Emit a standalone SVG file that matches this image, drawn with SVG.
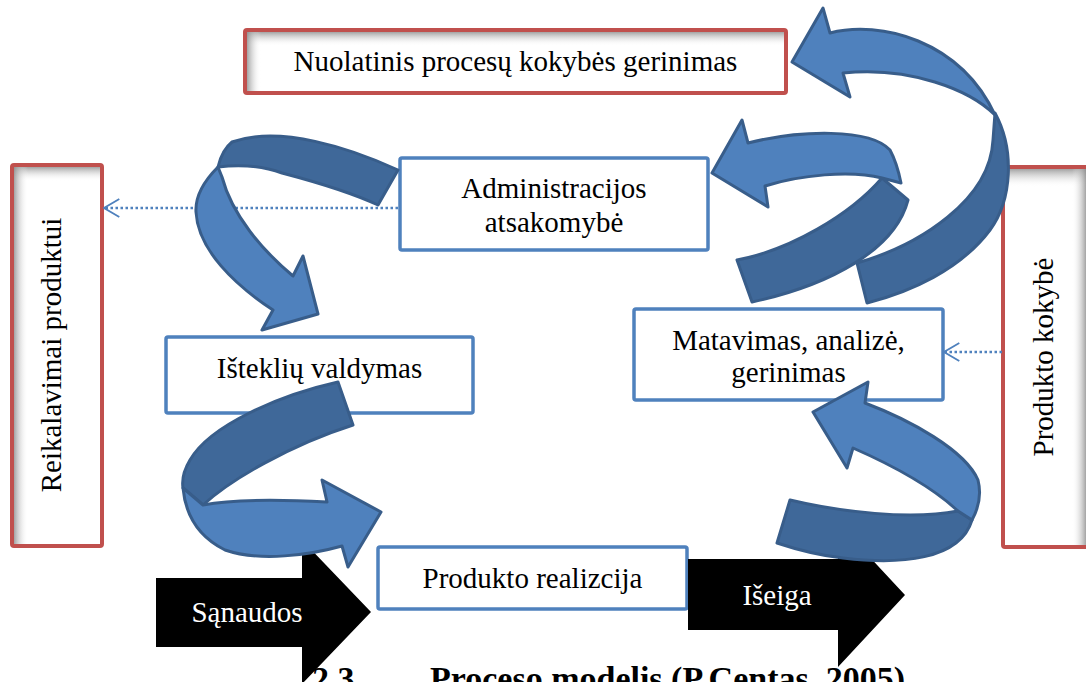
<svg xmlns="http://www.w3.org/2000/svg" width="1086" height="682" viewBox="0 0 1086 682">
<defs>
<style>
.box{fill:#fff;stroke:#4F81BD;stroke-width:3.5}
.rbox{fill:none;stroke:#C0504D;stroke-width:4}
.rfill{fill:#fff}
.t{font-family:"Liberation Serif","Times New Roman",serif;font-size:29px;fill:#000;text-anchor:middle}
.w{fill:#fff}
.light{fill:#4F81BD;stroke:#385D8A;stroke-width:3;stroke-linejoin:round}
.dark{fill:#3F6899;stroke:#385D8A;stroke-width:3;stroke-linejoin:round}
.dot{stroke:#4F81BD;stroke-width:2.5;stroke-dasharray:2.5 2.5;fill:none}
.blk{fill:#000}
.cap{font-family:"Liberation Serif","Times New Roman",serif;font-size:34px;font-weight:bold;fill:#000}
</style>
<linearGradient id="shT" x1="0" y1="0" x2="0" y2="1"><stop offset="0" stop-color="#8c8c8c" stop-opacity="0.8"/><stop offset="1" stop-color="#fff" stop-opacity="0"/></linearGradient>
<linearGradient id="shL" x1="0" y1="0" x2="1" y2="0"><stop offset="0" stop-color="#8c8c8c" stop-opacity="0.8"/><stop offset="1" stop-color="#fff" stop-opacity="0"/></linearGradient>
<linearGradient id="shR" x1="1" y1="0" x2="0" y2="0"><stop offset="0" stop-color="#8c8c8c" stop-opacity="0.8"/><stop offset="1" stop-color="#fff" stop-opacity="0"/></linearGradient>
<marker id="open" viewBox="0 0 20 22" refX="19" refY="11" markerWidth="18" markerHeight="21" orient="auto" markerUnits="userSpaceOnUse">
<path d="M 2 1 L 19 11 L 2 21" fill="none" stroke="#4F81BD" stroke-width="2"/>
</marker>
</defs>

<g id="node-nuolatinis">
<rect class="rfill" x="245" y="30" width="541" height="63" rx="2"/>
<rect x="247" y="32" width="537" height="14" fill="url(#shT)"/>
<rect x="247" y="32" width="14" height="59" fill="url(#shL)"/>
<rect class="rbox" x="245" y="30" width="541" height="63" rx="2"/>
<text class="t" x="515.5" y="71">Nuolatinis procesų kokybės gerinimas</text>
</g>

<g id="node-reikalavimai">
<rect class="rfill" x="12" y="165" width="90" height="381" rx="2"/>
<rect x="14" y="167" width="86" height="14" fill="url(#shT)"/>
<rect x="14" y="167" width="14" height="377" fill="url(#shL)"/>
<rect class="rbox" x="12" y="165" width="90" height="381" rx="2"/>
<text class="t" transform="translate(61,355) rotate(-90)">Reikalavimai produktui</text>
</g>

<g id="node-kokybe">
<rect class="rfill" x="1003" y="167" width="90" height="380" rx="2"/>
<rect x="1005" y="169" width="86" height="18" fill="url(#shT)"/>
<rect x="1072" y="169" width="14" height="376" fill="url(#shR)"/>
<rect class="rbox" x="1003" y="167" width="90" height="380" rx="2"/>
<text class="t" transform="translate(1053,357) rotate(-90)">Produkto kokybė</text>
</g>

<g id="node-administracijos">
<rect class="box" x="400" y="158" width="308" height="92" rx="2"/>
<text class="t" x="554" y="198">Administracijos</text>
<text class="t" x="554" y="232">atsakomybė</text>
</g>

<g id="node-istekliu">
<rect class="box" x="166" y="337" width="307" height="76" rx="2"/>
<text class="t" x="319.5" y="378">Išteklių valdymas</text>
</g>

<g id="node-matavimas">
<rect class="box" x="634" y="309" width="309" height="91" rx="2"/>
<text class="t" x="788.5" y="350">Matavimas, analizė,</text>
<text class="t" x="788.5" y="382">gerinimas</text>
</g>

<g id="node-realizacija">
<rect class="box" x="378" y="547" width="309" height="62" rx="2"/>
<text class="t" x="532.5" y="588">Produkto realizcija</text>
</g>

<g id="connectors">
<path class="dot" d="M 398 208 L 104 208" marker-end="url(#open)"/>
<path class="dot" d="M 1002 352 L 944 352" marker-end="url(#open)"/>
</g>

<g id="node-sanaudos">
<polygon class="blk" points="156,578 302,578 302,540 371,612 302,684 302,647 156,647"/>
<text class="t w" x="247" y="622">Sąnaudos</text>
</g>

<g id="node-iseiga">
<polygon class="blk" points="688,559 838,559 838,523 905,595 838,667 838,630 688,630"/>
<text class="t w" x="777" y="605">Išeiga</text>
</g>

<g id="curved-arrows">
<g id="arrow-admin-istekliai">
<path class="dark" d="M 398,170 C 350,148 280,125 232,142 Q 222,150 218,167 C 235,165 260,165 282,173 C 320,183 350,192 378,205 Z"/>
<path class="light" d="M 218,167 C 205,180 195,195 196,212 C 198,250 235,285 273,310 L 262,330 L 318,314 L 303,256 L 293,276 C 262,250 232,215 222,177 Z"/>
</g>
<g id="arrow-istekliai-realizacija">
<path class="dark" d="M 338,382 C 280,395 210,425 190,460 Q 181,475 183,488 L 203,505 C 230,480 290,445 353,425 Z"/>
<path class="light" d="M 183,488 C 185,510 195,535 225,550 C 260,562 310,555 342,546 L 348,567 L 381,512 L 322,480 L 327,502 C 290,500 240,498 203,505 Z"/>
</g>
<g id="arrow-matavimas-admin">
<path class="dark" d="M 737,260 C 790,250 850,215 882,178 L 908,200 C 895,250 830,285 752,302 Z"/>
<path class="light" d="M 748,143 C 800,130 870,128 890,150 Q 897,163 901,183 L 882,178 C 850,170 800,175 765,186 L 768,207 L 712,173 L 742,120 Z"/>
</g>
<g id="arrow-kokybe-nuolatinis">
<path class="dark" d="M 857,263 C 920,245 990,200 993,140 L 995,113 C 1015,150 1012,200 990,230 C 960,270 910,292 867,303 Z"/>
<path class="light" d="M 830,33 C 880,20 960,40 995,115 C 970,90 910,66 843,73 L 850,97 L 792,62 L 823,8 Z"/>
</g>
<g id="arrow-iseiga-matavimas">
<path class="dark" d="M 790,500 C 840,512 910,520 958,511 L 972,520 C 960,560 900,565 843,558 C 815,555 795,549 777,543 Z"/>
<path class="light" d="M 865,403 C 910,420 965,450 978,480 Q 983,500 972,520 L 958,511 C 930,485 885,462 853,448 L 847,468 L 813,412 L 868,382 Z"/>
</g>
</g>

<text class="cap" x="312" y="690">2.3</text>
<text class="cap" x="430" y="690">Proceso modelis (P.Centas, 2005)</text>
</svg>
